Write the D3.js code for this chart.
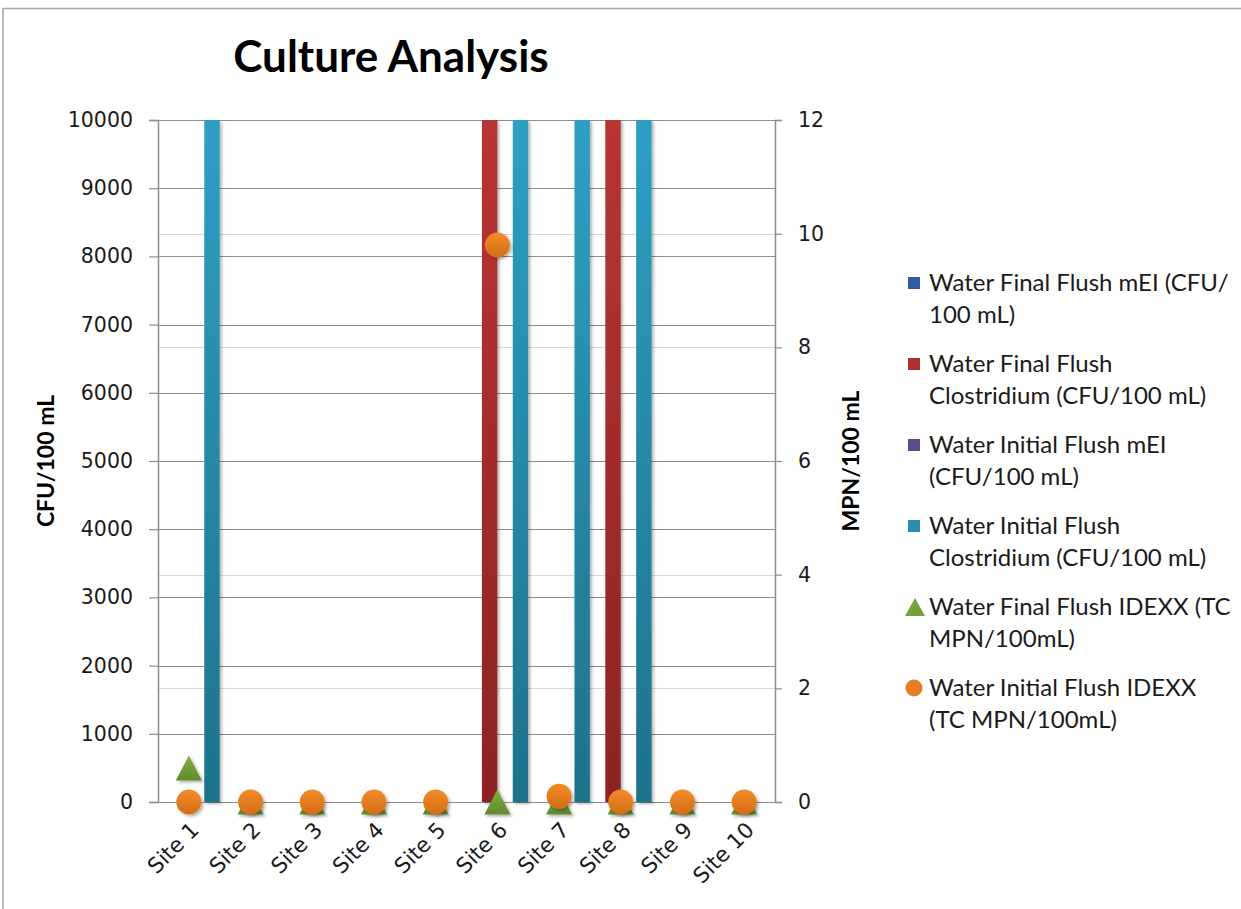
<!DOCTYPE html>
<html>
<head>
<meta charset="utf-8">
<script src="https://cdn.jsdelivr.net/npm/d3@7"></script>
<style>
  html, body { margin: 0; padding: 0; background: #fff; }
  svg { display: block; }
</style>
</head>
<body>
<div id="chart"></div>
<script>
// Sites along the category axis
const sites = ["Site 1", "Site 2", "Site 3", "Site 4", "Site 5",
               "Site 6", "Site 7", "Site 8", "Site 9", "Site 10"];

// Plate counts, CFU/100 mL (left axis)
const finalFlushMEI        = [0, 0, 0, 0, 0, 0, 0, 0, 0, 0];
const finalFlushClostridium = [0, 0, 0, 0, 0, 10000, 0, 10000, 0, 0];
const initialFlushMEI      = [0, 0, 0, 0, 0, 0, 0, 0, 0, 0];
const initialFlushClostridium = [10000, 0, 0, 0, 0, 10000, 10000, 10000, 0, 0];

// IDEXX total coliform, MPN/100 mL (right axis)
const finalFlushIDEXX   = [0.6, 0, 0, 0, 0, 0, 0, 0, 0, 0];
const initialFlushIDEXX = [0, 0, 0, 0, 0, 9.8, 0.1, 0, 0, 0];

// Axis ticks
const leftTicks  = [0, 1000, 2000, 3000, 4000, 5000, 6000, 7000, 8000, 9000, 10000];
const rightTicks = [0, 2, 4, 6, 8, 10, 12];

const legendLabels = [
  ["Water Final Flush mEI (CFU/", "100 mL)"],
  ["Water Final Flush", "Clostridium (CFU/100 mL)"],
  ["Water Initial Flush mEI", "(CFU/100 mL)"],
  ["Water Initial Flush", "Clostridium (CFU/100 mL)"],
  ["Water Final Flush IDEXX (TC", "MPN/100mL)"],
  ["Water Initial Flush IDEXX", "(TC MPN/100mL)"]
];

const W = 1241, H = 909;
const plot = { left: 158, right: 775, top: 120, bottom: 802 };

const svg = d3.select("#chart").append("svg")
  .attr("width", W).attr("height", H);

svg.append("rect").attr("width", W).attr("height", H).attr("fill", "#fff");

// Chart frame
svg.append("path")
  .attr("d", `M3,${H} V8.5 H${W}`)
  .attr("fill", "none").attr("stroke", "#a6a6a6").attr("stroke-width", 1.5);

const defs = svg.append("defs");

function vGradient(id, top, bottom) {
  const g = defs.append("linearGradient").attr("id", id)
    .attr("x1", 0).attr("y1", 0).attr("x2", 0).attr("y2", 1);
  g.append("stop").attr("offset", "0%").attr("stop-color", top);
  g.append("stop").attr("offset", "100%").attr("stop-color", bottom);
}
vGradient("gBlue", "#3A6DB0", "#2A5490");
vGradient("gRed", "#B83434", "#8C2323");
vGradient("gPurple", "#6E57A0", "#54407F");
vGradient("gTeal", "#2E9FC3", "#1E728B");
vGradient("gOrange", "#F28C28", "#D56C18");
vGradient("gGreen", "#84AE46", "#5F8B2B");

const shadow = defs.append("filter").attr("id", "shadow")
  .attr("x", "-50%").attr("y", "-20%").attr("width", "200%").attr("height", "140%");
shadow.append("feDropShadow").attr("dx", 2).attr("dy", 2)
  .attr("stdDeviation", 1.8).attr("flood-color", "#000").attr("flood-opacity", 0.3);

// Scales
const x0 = d3.scaleBand().domain(sites).range([plot.left, plot.right]).padding(0);
const barSeries = [
  { key: "ffmei", values: finalFlushMEI, fill: "url(#gBlue)", swatch: "#2F5F9E" },
  { key: "ffclos", values: finalFlushClostridium, fill: "url(#gRed)", swatch: "#B03030" },
  { key: "ifmei", values: initialFlushMEI, fill: "url(#gPurple)", swatch: "#5E4A8C" },
  { key: "ifclos", values: initialFlushClostridium, fill: "url(#gTeal)", swatch: "#2A8CAE" }
];
const x1 = d3.scaleBand().domain(barSeries.map(d => d.key))
  .range([0, x0.bandwidth()]).padding(0);
const yL = d3.scaleLinear().domain([0, 10000]).range([plot.bottom, plot.top]);
const yR = d3.scaleLinear().domain([0, 12]).range([plot.bottom, plot.top]);

// Secondary-axis gridlines (light)
svg.append("g").selectAll("line").data(rightTicks).join("line")
  .attr("x1", plot.left).attr("x2", plot.right)
  .attr("y1", d => Math.round(yR(d)) + 0.5).attr("y2", d => Math.round(yR(d)) + 0.5)
  .attr("stroke", "#d9d9d9").attr("stroke-width", 1);

// Primary gridlines
svg.append("g").selectAll("line").data(leftTicks).join("line")
  .attr("x1", plot.left).attr("x2", plot.right)
  .attr("y1", d => Math.round(yL(d)) + 0.5).attr("y2", d => Math.round(yL(d)) + 0.5)
  .attr("stroke", "#8c8c8c").attr("stroke-width", 1.2);

// Bars
const barW = x1.bandwidth();
barSeries.forEach(s => {
  svg.append("g").attr("filter", "url(#shadow)")
    .selectAll("rect").data(s.values.map((v, i) => ({ site: sites[i], v })).filter(d => d.v > 0))
    .join("rect")
    .attr("x", d => x0(d.site) + x1(s.key))
    .attr("width", barW)
    .attr("y", d => yL(d.v))
    .attr("height", d => yL(0) - yL(d.v))
    .attr("fill", s.fill);
});

// Axes
const leftAxis = svg.append("g").attr("transform", `translate(${plot.left},0)`)
  .call(d3.axisLeft(yL).tickValues(leftTicks).tickSize(9).tickPadding(16).tickFormat(d3.format("d")));
const rightAxis = svg.append("g").attr("transform", `translate(${plot.right},0)`)
  .call(d3.axisRight(yR).tickValues(rightTicks).tickSize(7).tickPadding(16).tickFormat(d3.format("d")));
[leftAxis, rightAxis].forEach(a => {
  a.select(".domain").attr("stroke", "#8c8c8c").attr("stroke-width", 1.5);
  a.selectAll(".tick line").attr("stroke", "#8c8c8c").attr("stroke-width", 1.2);
  a.selectAll(".tick text").attr("fill", "#1a1a1a")
    .style("font-family", "'DejaVu Sans', sans-serif").style("font-size", "20.5px");
});

// Category labels, rotated
svg.append("g").selectAll("text").data(sites).join("text")
  .attr("transform", d => `translate(${x0(d) + x0.bandwidth() / 2 + 6},${plot.bottom + 24}) rotate(-45)`)
  .attr("text-anchor", "end")
  .attr("dy", "0.35em")
  .attr("fill", "#1a1a1a")
  .style("font-family", "'DejaVu Sans', sans-serif").style("font-size", "21.5px")
  .text(d => d);

// Markers: triangles for final flush IDEXX, circles for initial flush IDEXX
const triW = 26, triH = 25;
const triPath = `M0,${-triH / 2} L${triW / 2},${triH / 2} L${-triW / 2},${triH / 2} Z`;
const xc = d => x0(d) + x0.bandwidth() / 2;

svg.append("g").attr("filter", "url(#shadow)")
  .selectAll("path").data(finalFlushIDEXX.map((v, i) => ({ site: sites[i], v }))).join("path")
  .attr("d", triPath)
  .attr("transform", d => `translate(${xc(d.site)},${yR(d.v)})`)
  .attr("fill", "url(#gGreen)");

svg.append("g").attr("filter", "url(#shadow)")
  .selectAll("circle").data(initialFlushIDEXX.map((v, i) => ({ site: sites[i], v }))).join("circle")
  .attr("cx", d => xc(d.site))
  .attr("cy", d => yR(d.v))
  .attr("r", 12.5)
  .attr("fill", "url(#gOrange)");

// Title
svg.append("text")
  .attr("x", 391).attr("y", 72)
  .attr("text-anchor", "middle")
  .attr("fill", "#000")
  .style("font-family", "Lato, sans-serif").style("font-weight", "bold").style("font-size", "44px")
  .text("Culture Analysis");

// Axis titles
svg.append("text")
  .attr("transform", `translate(54,${(plot.top + plot.bottom) / 2}) rotate(-90)`)
  .attr("text-anchor", "middle")
  .attr("fill", "#000")
  .style("font-family", "Lato, sans-serif").style("font-weight", "bold").style("font-size", "23px")
  .text("CFU/100 mL");
svg.append("text")
  .attr("transform", `translate(859,${(plot.top + plot.bottom) / 2}) rotate(-90)`)
  .attr("text-anchor", "middle")
  .attr("fill", "#000")
  .style("font-family", "Lato, sans-serif").style("font-weight", "bold").style("font-size", "23px")
  .text("MPN/100 mL");

// Legend
const legendTop = 283, legendStep = 81, lineGap = 32, textX = 929;
const legend = svg.append("g");
legendLabels.forEach((lines, i) => {
  const y = legendTop + i * legendStep;
  const g = legend.append("g");
  if (i < 4) {
    g.append("rect").attr("x", 908).attr("y", y - 6).attr("width", 12).attr("height", 12)
      .attr("fill", barSeries[i].swatch);
  } else if (i === 4) {
    g.append("path").attr("d", `M915,${y - 9} L925,${y + 9} L905,${y + 9} Z`).attr("fill", "#76A03A");
  } else {
    g.append("circle").attr("cx", 914).attr("cy", y).attr("r", 8.5).attr("fill", "#E57E22");
  }
  lines.forEach((t, j) => {
    g.append("text")
      .attr("x", textX).attr("y", y + j * lineGap)
      .attr("dy", "0.35em")
      .attr("fill", "#1a1a1a")
      .style("font-family", "Lato, sans-serif").style("font-size", "24px")
      .text(t);
  });
});
</script>
</body>
</html>
